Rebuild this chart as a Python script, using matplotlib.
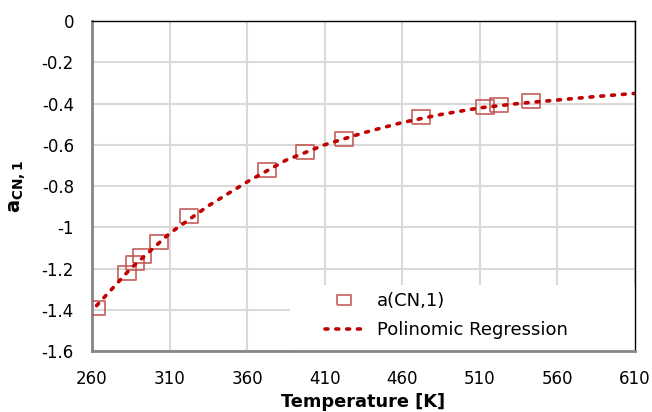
import matplotlib.pyplot as plt
from matplotlib.patches import Rectangle

# measured points
temp = [262.5, 282.5, 287.5, 292.5, 303, 322.5, 372.5, 397.5, 422.5, 472, 513.5, 522.5, 543]
a_cn1 = [-1.39, -1.22, -1.175, -1.14, -1.07, -0.945, -0.72, -0.635, -0.57, -0.467, -0.415, -0.405, -0.387]

# regression curve
fit_t = [263, 285, 310, 335, 360, 385, 410, 435, 460, 485, 510, 535, 560, 585, 610]
fit_a = [-1.38, -1.20, -1.03, -0.896, -0.78, -0.675, -0.60, -0.542, -0.492, -0.453, -0.421, -0.400, -0.383, -0.366, -0.351]

xticks = [260, 310, 360, 410, 460, 510, 560, 610]
yticks = [0, -0.2, -0.4, -0.6, -0.8, -1, -1.2, -1.4, -1.6]
ylabels = ["0", "-0.2", "-0.4", "-0.6", "-0.8", "-1", "-1.2", "-1.4", "-1.6"]

plt.rcParams['font.family'] = ['DejaVu Sans']

fig = plt.figure(figsize=(6.52, 4.12), dpi=100)
ax = fig.add_axes([0.141, 0.148, 0.833, 0.801])

# squares in the source are a bit wider than tall
box = [(-1.0, -0.75), (1.0, -0.75), (1.0, 0.75), (-1.0, 0.75), (-1.0, -0.75)]
ax.plot(temp, a_cn1, linestyle='none', marker=box, markersize=12.5,
        markerfacecolor='none', markeredgecolor='#c0504d', markeredgewidth=1.3,
        alpha=0.85, label='a(CN,1)', zorder=3)
ax.plot(fit_t, fit_a, linestyle=(0, (0.8, 2.2)), color='#c00000', linewidth=2.6,
        dash_capstyle='round', label='Polinomic Regression', zorder=4)

ax.set_xlim(260, 610)
ax.set_ylim(-1.6, 0)
ax.set_xticks(xticks)
ax.set_yticks(yticks)
ax.set_yticklabels(ylabels)
ax.tick_params(axis='both', length=0, labelsize=12)
ax.tick_params(axis='y', pad=13)
ax.tick_params(axis='x', pad=14)
ax.grid(True, color='#d9d9d9', linewidth=1.5)
ax.set_axisbelow(True)

for s in ['top', 'right']:
    ax.spines[s].set_color('black')
    ax.spines[s].set_linewidth(1.0)
for s in ['left', 'bottom']:
    ax.spines[s].set_color('#868686')
    ax.spines[s].set_linewidth(2.0)

ax.set_xlabel('Temperature [K]', fontsize=12.8, fontweight='bold')
ax.xaxis.set_label_coords(0.499, -0.126)
ax.set_ylabel(r'$\mathbf{a_{CN,1}}$', fontsize=14)
ax.yaxis.set_label_coords(-0.118, 0.5)

# white block behind the legend, covering the grid
ax.add_patch(Rectangle((0.3646, 0.0), 0.64, 0.2, transform=ax.transAxes,
                       facecolor='white', edgecolor='none', zorder=2.5))

leg = ax.legend(loc='upper left', bbox_to_anchor=(0.429, 0.178), frameon=False,
                fontsize=13, handlelength=2.1, handletextpad=0.8, borderpad=0,
                labelspacing=0.62, borderaxespad=0)
leg.set_zorder(5)
leg.legend_handles[0].set_markersize(10)

fig.savefig('out.png', dpi=100)
